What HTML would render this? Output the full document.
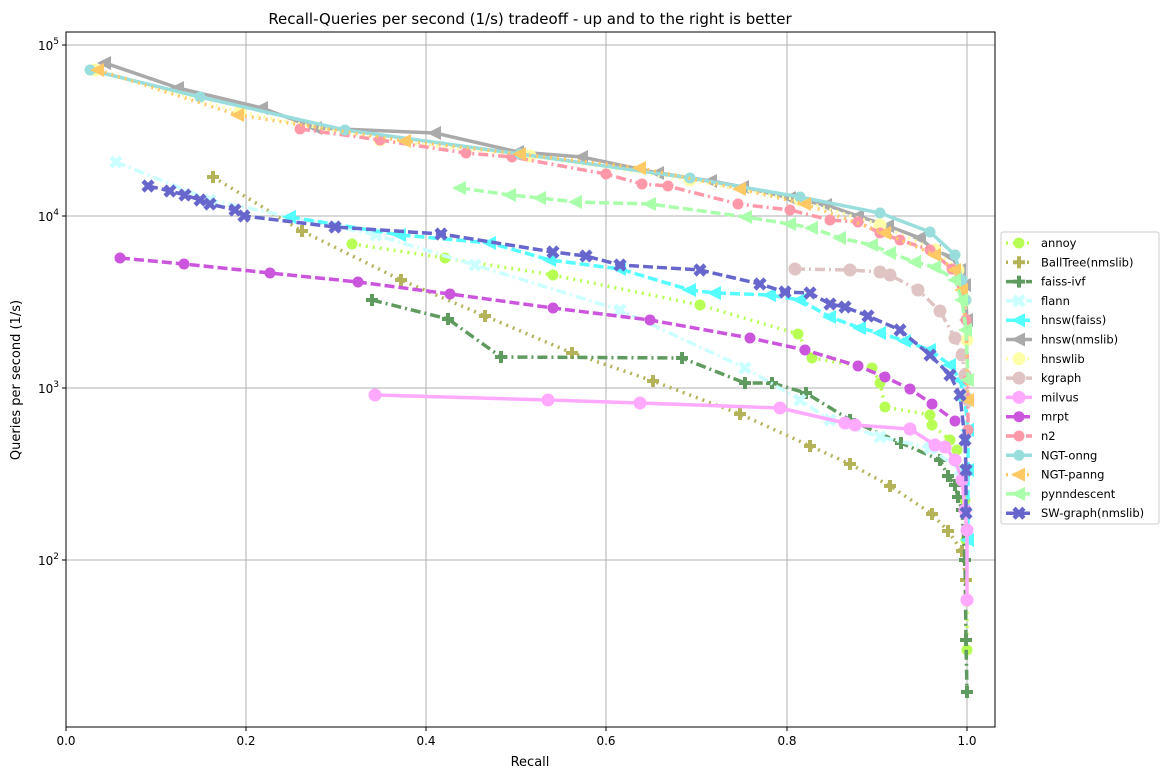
<!DOCTYPE html>
<html><head><meta charset="utf-8"><style>
html,body{margin:0;padding:0;background:#fff;width:1168px;height:778px;overflow:hidden}
text{font-family:"DejaVu Sans","Liberation Sans",sans-serif}
</style></head><body>
<svg id="s" width="1168" height="778" xmlns="http://www.w3.org/2000/svg">
<rect x="0" y="0" width="1168" height="778" fill="#fff"/>
<g stroke="#b0b0b0" stroke-width="1">
<line x1="246" y1="32" x2="246" y2="727"/><line x1="426" y1="32" x2="426" y2="727"/>
<line x1="606" y1="32" x2="606" y2="727"/><line x1="787" y1="32" x2="787" y2="727"/>
<line x1="967" y1="32" x2="967" y2="727"/>
<line x1="66" y1="45" x2="995" y2="45"/><line x1="66" y1="216" x2="995" y2="216"/>
<line x1="66" y1="388" x2="995" y2="388"/><line x1="66" y1="560" x2="995" y2="560"/>
</g>
<g id="series"></g>
<rect x="66" y="32" width="929" height="695" fill="none" stroke="#000" stroke-width="1"/>
<g font-size="12" fill="#000" text-anchor="middle">
<text x="66" y="745">0.0</text><text x="246" y="745">0.2</text><text x="426" y="745">0.4</text>
<text x="606" y="745">0.6</text><text x="787" y="745">0.8</text><text x="967" y="745">1.0</text>
</g>
<g stroke="#000"><line x1="66" y1="727" x2="66" y2="731"/><line x1="246" y1="727" x2="246" y2="731"/><line x1="426" y1="727" x2="426" y2="731"/><line x1="606" y1="727" x2="606" y2="731"/><line x1="787" y1="727" x2="787" y2="731"/><line x1="967" y1="727" x2="967" y2="731"/>
<line x1="62" y1="45" x2="66" y2="45"/><line x1="62" y1="216" x2="66" y2="216"/><line x1="62" y1="388" x2="66" y2="388"/><line x1="62" y1="560" x2="66" y2="560"/></g>
<g font-size="12" fill="#000" text-anchor="end">
<text x="59" y="50">10<tspan font-size="9" dy="-6">5</tspan></text>
<text x="59" y="221">10<tspan font-size="9" dy="-6">4</tspan></text>
<text x="59" y="393">10<tspan font-size="9" dy="-6">3</tspan></text>
<text x="59" y="565">10<tspan font-size="9" dy="-6">2</tspan></text>
</g>
<text x="530" y="24" font-size="15" text-anchor="middle">Recall-Queries per second (1/s) tradeoff - up and to the right is better</text>
<text x="530" y="766" font-size="13" text-anchor="middle">Recall</text>
<text x="20" y="380" font-size="13" text-anchor="middle" transform="rotate(-90 20 380)">Queries per second (1/s)</text>
<rect x="1001" y="232" width="158" height="292" fill="#fff" stroke="#ccc" rx="2"/>
<g id="legend"></g>
</svg>
<script>
var S=[
["annoy","#b8ff55","2,5","hex",[[352,244],[445,258],[553,275],[700,305],[798,334],[812,358],[872,368],[880,383],[885,407],[930,415],[932,425],[950,440],[957,450],[962,470],[965,500],[966,540],[967,600],[967,650]]],
["BallTree(nmslib)","#b5b35a","2,5","plus",[[213,177],[302,231],[401,280],[485,316],[572,353],[653,381],[740,414],[810,446],[850,464],[890,486],[932,514],[948,531],[962,551],[966,580]]],
["faiss-ivf","#5f9a5f","10,4,2,4","plus",[[372,300],[448,319],[501,357],[682,358],[745,383],[772,383],[806,393],[850,420],[901,443],[940,460],[948,476],[955,485],[958,497],[962,510],[965,560],[966,640],[967,692]]],
["flann","#ccffff","10,4,2,4","x",[[116,162],[210,200],[376,235],[475,265],[620,310],[745,368],[800,400],[830,420],[880,437],[930,448],[960,470]]],
["hnsw(faiss)","#55ffff","10,4","tri",[[290,217],[400,235],[490,243],[550,260],[620,269],[690,290],[715,293],[770,295],[800,300],[830,317],[860,328],[880,333],[905,341],[930,350],[950,365],[960,380],[965,400],[968,430],[968,470],[968,540]]],
["hnsw(nmslib)","#aaaaaa","","tri",[[105,63],[178,88],[262,108],[316,128],[435,133],[518,152],[582,157],[658,173],[711,181],[743,187],[790,198],[826,205],[858,216],[888,226],[920,238],[935,251],[952,257],[960,270],[965,285],[967,320]]],
["hnswlib","#ffffaa","2,5","circ",[[95,70],[240,112],[380,140],[530,156],[690,180],[800,200],[880,225],[935,250],[958,270],[965,300],[967,340]]],
["kgraph","#e0c4c4","10,4,2,4","circ",[[795,269],[850,270],[880,272],[890,275],[918,290],[940,311],[955,338],[962,355],[965,375],[968,400]]],
["milvus","#ffaaff","","circ",[[375,395],[548,400],[640,403],[780,408],[845,423],[855,425],[910,429],[935,445],[945,447],[955,460],[962,480],[965,510],[967,530],[967,600]]],
["mrpt","#cc55dd","10,4","hex",[[120,258],[184,264],[270,273],[358,282],[450,294],[553,308],[650,320],[750,338],[805,350],[858,366],[885,377],[910,389],[932,404],[955,421]]],
["n2","#ff99aa","10,4,2,4","hex",[[300,129],[380,140],[466,153],[512,157],[606,174],[642,184],[668,186],[738,204],[790,210],[830,220],[858,222],[880,233],[900,240],[930,250],[952,269],[962,285],[966,320],[968,380],[968,430]]],
["NGT-onng","#99dddd","","hex",[[90,70],[200,97],[345,130],[520,154],[690,178],[800,197],[880,213],[930,232],[955,255],[962,280],[966,300]]],
["NGT-panng","#ffc966","2,5","tri",[[98,70],[238,115],[405,141],[520,154],[640,168],[740,189],[805,204],[885,233],[935,255],[955,270],[962,290],[966,330],[968,400]]],
["pynndescent","#aaffaa","10,4","tri",[[460,188],[510,195],[540,198],[576,202],[650,204],[746,217],[790,224],[812,228],[840,238],[872,245],[890,253],[915,262],[935,267],[955,280],[962,300],[966,330],[968,380]]],
["SW-graph(nmslib)","#6666cc","10,4","x",[[148,186],[170,191],[185,195],[200,200],[210,204],[235,210],[244,216],[335,227],[441,234],[553,252],[586,256],[620,265],[700,270],[760,284],[785,292],[810,293],[830,304],[845,307],[868,316],[900,330],[930,355],[950,375],[960,395],[965,440],[966,470],[966,513]]]
];
function mk(t,x,y,c){
 if(t=="circ")return '<circle cx="'+x+'" cy="'+y+'" r="6.5" fill="'+c+'"/>';
 if(t=="hex")return '<circle cx="'+x+'" cy="'+y+'" r="5.5" fill="'+c+'"/>';
 if(t=="plus")return '<path d="M'+(x-6)+' '+y+'h12M'+x+' '+(y-6)+'v12" stroke="'+c+'" stroke-width="4"/>';
 if(t=="x")return '<path d="M'+(x-5)+' '+(y-5)+'l10 10M'+(x-5)+' '+(y+5)+'l10 -10" stroke="'+c+'" stroke-width="4.5"/>';
 return '<path d="M'+(x-8)+' '+y+'L'+(x+6)+' '+(y-7)+'L'+(x+6)+' '+(y+7)+'Z" fill="'+c+'"/>';
}
var g="",l="";
S.forEach(function(s,i){
 var d=s[4].map(function(p,j){return (j?"L":"M")+p[0]+" "+p[1]}).join("");
 g+='<path d="'+d+'" fill="none" stroke="'+s[1]+'" stroke-width="3.5"'+(s[2]?' stroke-dasharray="'+s[2]+'"':'')+'/>';
 s[4].forEach(function(p){g+=mk(s[3],p[0],p[1],s[1])});
 var y=243+i*19.3;
 l+='<line x1="1006" y1="'+y+'" x2="1032" y2="'+y+'" stroke="'+s[1]+'" stroke-width="3.5"'+(s[2]?' stroke-dasharray="'+s[2]+'"':'')+'/>'+mk(s[3],1019,y,s[1]);
 l+='<text x="1041" y="'+(y+4)+'" font-size="11.5">'+s[0]+'</text>';
});
document.getElementById("series").innerHTML=g;
document.getElementById("legend").innerHTML=l;
</script>
</body></html>
